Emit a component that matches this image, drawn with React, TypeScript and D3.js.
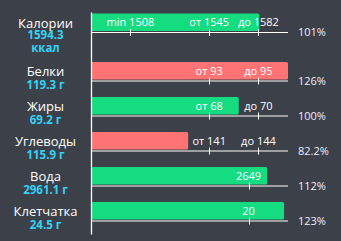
import React from "react";
import * as d3 from "d3";

const names = ["Калории", "Белки", "Жиры", "Углеводы", "Вода", "Клетчатка"];
const values = [1594.3, 119.3, 69.2, 115.9, 2961.1, 24.5];
const units = ["ккал", "г", "г", "г", "г", "г"];
const mins: (number | null)[] = [1508, null, null, null, null, null];
const froms: (number | null)[] = [1545, 93, 68, 141, null, null];
const tos: (number | null)[] = [1582, 95, 70, 144, null, null];
const targets: (number | null)[] = [null, null, null, null, 2649, 20];
const percents = ["101%", "126%", "100%", "82.2%", "112%", "123%"];
const good = [true, false, true, false, true, true];

const W = 341;
const H = 241;
const BG = "#3c4048";
const GREEN = "#15dc81";
const RED = "#fe7373";
const CYAN = "#33d3f5";
const FONT = "'Open Sans', sans-serif";

const X0 = 91;
const X1 = 288;
const lineYs = names.map((_, i) => (i === 0 ? 32 : 80.5 + 35 * (i - 1)));

function rowScale(i: number) {
  const px = (f: number) => X0 + f * (X1 - X0);
  const t = targets[i];
  if (t != null) {
    return d3.scaleLinear().domain([0, t, t * 1.25]).range([px(0), px(0.8), px(1)]).clamp(true);
  }
  const lo = froms[i] as number;
  const hi = tos[i] as number;
  const m = mins[i];
  if (m != null) {
    return d3
      .scaleLinear()
      .domain([0, m, lo, hi, hi * 1.25])
      .range([px(0), px(0.2), px(0.6), px(0.85), px(1)])
      .clamp(true);
  }
  return d3
    .scaleLinear()
    .domain([0, lo, hi, hi * 1.25])
    .range([px(0), px(0.6), px(0.85), px(1)])
    .clamp(true);
}

function tickList(i: number): { v: number; label: string }[] {
  const out: { v: number; label: string }[] = [];
  if (targets[i] != null) {
    out.push({ v: targets[i] as number, label: String(targets[i]) });
    return out;
  }
  if (mins[i] != null) out.push({ v: mins[i] as number, label: "min " + mins[i] });
  out.push({ v: froms[i] as number, label: "от " + froms[i] });
  out.push({ v: tos[i] as number, label: "до " + tos[i] });
  return out;
}

export default function App() {
  return (
    <svg
      width={W}
      height={H}
      style={{ position: "absolute", left: 0, top: 0, display: "block", background: BG }}
      fontFamily={FONT}
    >
      <rect x={0} y={0} width={W} height={H} fill={BG} />
      {names.map((name, i) => {
        const ly = lineYs[i];
        const sc = rowScale(i);
        const xEnd = sc(values[i]);
        const ticks = tickList(i);
        const multi = units[i] === "ккал";
        return (
          <g key={name}>
            <path
              d={`M${X0 + 1},${ly - 18.5}H${xEnd - 1.5}Q${xEnd},${ly - 18.5} ${xEnd},${ly - 17}V${ly - 2.5}Q${xEnd},${ly - 1} ${xEnd - 1.5},${ly - 1}H${X0 + 1}Z`}
              fill={good[i] ? GREEN : RED}
            />
            <line x1={X0} x2={X1} y1={ly + 0.5} y2={ly + 0.5} stroke="#ffffff" strokeWidth={1} />
            {ticks.map((t) => (
              <g key={t.label}>
                <line
                  x1={Math.round(sc(t.v)) + 0.5}
                  x2={Math.round(sc(t.v)) + 0.5}
                  y1={ly - 3}
                  y2={ly + 4}
                  stroke="#ffffff"
                  strokeWidth={1}
                />
                <text x={sc(t.v)} y={ly - 6} textAnchor="middle" fontSize={11} fill="#ffffff">
                  {t.label}
                </text>
              </g>
            ))}
            <text x={298} y={ly + 4} fontSize={11} fill="#eeeeff">
              {percents[i]}
            </text>
            <text x={45.5} y={ly - 4.5} textAnchor="middle" fontSize={13} fill="#ffffff">
              {name}
            </text>
            {multi ? (
              <>
                <text x={45.5} y={ly + 7.3} textAnchor="middle" fontSize={11.5} fontWeight="bold" fill={CYAN}>
                  {values[i]}
                </text>
                <text x={45.5} y={ly + 20.3} textAnchor="middle" fontSize={11.5} fontWeight="bold" fill={CYAN}>
                  {units[i]}
                </text>
              </>
            ) : (
              <text x={45.5} y={ly + 8} textAnchor="middle" fontSize={11.5} fontWeight="bold" fill={CYAN}>
                {values[i] + " " + units[i]}
              </text>
            )}
          </g>
        );
      })}
      <line x1={X0 + 0.5} x2={X0 + 0.5} y1={12.5} y2={234.5} stroke="#ffffff" strokeWidth={1.3} />
    </svg>
  );
}
